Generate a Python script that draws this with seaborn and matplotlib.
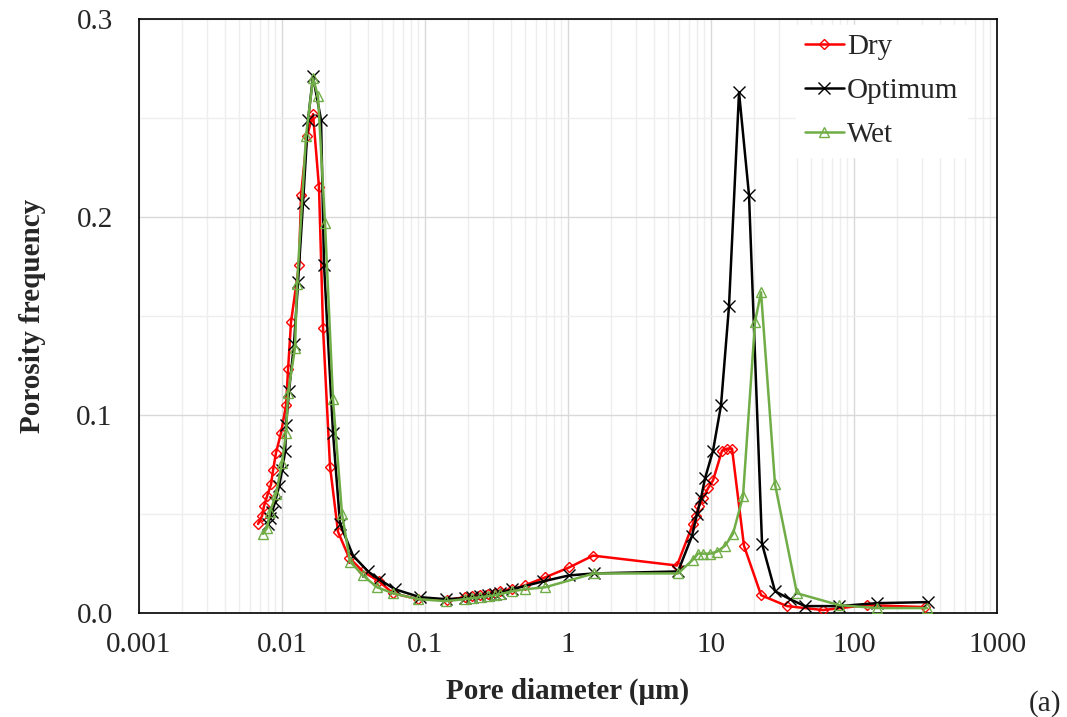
import numpy as np
import pandas as pd
import matplotlib
matplotlib.use("Agg")
import matplotlib.pyplot as plt
import seaborn as sns
from matplotlib.ticker import FixedLocator, LogLocator, NullFormatter, FixedFormatter

# ---- data ----
dry_x = [0.00680, 0.00725, 0.00748, 0.00786, 0.00838, 0.00865, 0.00908, 0.00984, 0.01067, 0.01102,
         0.01156, 0.01315, 0.01358, 0.01496, 0.01647, 0.01814, 0.01935, 0.02166, 0.02464, 0.02941,
         0.0368, 0.0477, 0.0597, 0.0893, 0.1425, 0.190, 0.213, 0.242, 0.276, 0.309,
         0.335, 0.406, 0.500, 0.691, 1.016, 1.496, 5.78, 7.48, 7.86, 8.24,
         8.79, 9.53, 10.33, 11.94, 12.94, 14.03, 17.0, 22.4, 34.0, 60.7,
         123.0, 314.0]
dry_y = [0.045, 0.049, 0.054, 0.059, 0.065, 0.072, 0.081, 0.091, 0.105, 0.123,
         0.147, 0.176, 0.211, 0.241, 0.252, 0.215, 0.144, 0.074, 0.041, 0.028,
         0.021, 0.016, 0.010, 0.007, 0.0066, 0.008, 0.0085, 0.009, 0.0095, 0.010,
         0.011, 0.012, 0.014, 0.018, 0.023, 0.029, 0.024, 0.045, 0.049, 0.054,
         0.058, 0.063, 0.067, 0.082, 0.083, 0.083, 0.034, 0.009, 0.0035, 0.0015,
         0.004, 0.003]

opt_x = [0.00798, 0.00824, 0.00851, 0.00893, 0.00953, 0.0100, 0.01053, 0.01067, 0.01119, 0.01213,
         0.01294, 0.01402, 0.01520, 0.01647, 0.01874, 0.01966, 0.02273, 0.02545, 0.03137, 0.0399,
         0.0477, 0.0617, 0.0923, 0.1403, 0.190, 0.213, 0.242, 0.276, 0.309, 0.335,
         0.406, 0.669, 1.016, 1.52, 5.88, 7.37, 7.98, 8.51, 9.08, 10.33,
         11.75, 13.36, 15.70, 18.44, 22.74, 28.03, 35.7, 45.4, 78.6, 144.8,
         329.0]
opt_y = [0.045, 0.048, 0.051, 0.056, 0.064, 0.072, 0.082, 0.095, 0.112, 0.136,
         0.167, 0.207, 0.249, 0.271, 0.249, 0.176, 0.091, 0.045, 0.029, 0.021,
         0.017, 0.012, 0.008, 0.007, 0.0075, 0.008, 0.0085, 0.009, 0.0095, 0.010,
         0.012, 0.016, 0.019, 0.020, 0.021, 0.039, 0.050, 0.058, 0.068, 0.082,
         0.105, 0.155, 0.263, 0.211, 0.035, 0.011, 0.007, 0.0035, 0.0035, 0.005,
         0.0055]

wet_x = [0.00737, 0.00786, 0.00824, 0.00908, 0.0100, 0.01067, 0.01102, 0.01233, 0.01273, 0.01472,
         0.01647, 0.01785, 0.01998, 0.02273, 0.02628, 0.02989, 0.0368, 0.0462, 0.0597, 0.0893,
         0.1403, 0.190, 0.213, 0.242, 0.276, 0.309, 0.335, 0.406, 0.500, 0.691,
         1.52, 5.88, 7.48, 8.11, 8.79, 9.84, 11.02, 12.53, 14.25, 16.74,
         20.31, 22.37, 28.03, 39.9, 78.6, 144.8, 324.0]
wet_y = [0.040, 0.043, 0.051, 0.060, 0.076, 0.091, 0.111, 0.134, 0.166, 0.241,
         0.270, 0.261, 0.197, 0.108, 0.050, 0.026, 0.019, 0.013, 0.010, 0.007,
         0.006, 0.007, 0.0075, 0.008, 0.0085, 0.009, 0.0095, 0.011, 0.012, 0.013,
         0.020, 0.020, 0.027, 0.030, 0.030, 0.030, 0.031, 0.034, 0.040, 0.059,
         0.147, 0.162, 0.065, 0.010, 0.004, 0.0025, 0.0025]

series_names = ["Dry", "Optimum", "Wet"]
x_ticks = [0.001, 0.01, 0.1, 1, 10, 100, 1000]
x_tick_labels = ["0.001", "0.01", "0.1", "1", "10", "100", "1000"]
y_ticks = [0.0, 0.1, 0.2, 0.3]
y_tick_labels = ["0.0", "0.1", "0.2", "0.3"]

# ---- plot ----
sns.set_style("white")
plt.rcParams["font.family"] = ["Liberation Serif", "DejaVu Serif"]

fig = plt.figure(figsize=(10.67, 7.17), dpi=100)
ax = fig.add_axes([0.1303, 0.1450, 0.8041, 0.8285])

sns.lineplot(x=dry_x, y=dry_y, ax=ax, sort=False, color="#FF0000", lw=1.8,
             marker="D", markersize=5.5, markerfacecolor="none", markeredgecolor="#FF0000",
             markeredgewidth=1.0, label=series_names[0], zorder=3)
sns.lineplot(x=opt_x, y=opt_y, ax=ax, sort=False, color="#000000", lw=1.8,
             marker="x", markersize=8, markeredgecolor="#000000",
             markeredgewidth=1.0, label=series_names[1], zorder=4)
sns.lineplot(x=wet_x, y=wet_y, ax=ax, sort=False, color="#70AD47", lw=1.8,
             marker="^", markersize=7, markerfacecolor="none", markeredgecolor="#70AD47",
             markeredgewidth=1.0, label=series_names[2], zorder=5)

ax.set_xscale("log")
ax.set_xlim(0.001, 1000)
ax.set_ylim(0, 0.3)

ax.xaxis.set_major_locator(FixedLocator(x_ticks))
ax.xaxis.set_major_formatter(FixedFormatter(x_tick_labels))
ax.xaxis.set_minor_locator(LogLocator(base=10, subs=np.arange(2, 10)))
ax.xaxis.set_minor_formatter(NullFormatter())
ax.yaxis.set_major_locator(FixedLocator(y_ticks))
ax.yaxis.set_major_formatter(FixedFormatter(y_tick_labels))
ax.yaxis.set_minor_locator(FixedLocator([0.05, 0.15, 0.25]))

ax.grid(True, which="major", color="#d9d9d9", lw=1.0, zorder=0)
ax.grid(True, which="minor", color="#eeeeee", lw=1.0, zorder=0)
ax.set_axisbelow(True)

ax.tick_params(axis="both", which="both", length=0, labelsize=21)
ax.tick_params(axis="x", pad=14)
ax.tick_params(axis="y", pad=19)
for s in ax.spines.values():
    s.set_color("#000000")
    s.set_linewidth(1.2)

ax.set_xlabel("Pore diameter (\u03bcm)", fontsize=21, fontweight="bold", labelpad=14)
ax.set_ylabel("Porosity frequency", fontsize=21, fontweight="bold", labelpad=22)

leg = ax.legend(loc="upper right", bbox_to_anchor=(0.965, 0.99), fontsize=21,
                frameon=True, fancybox=False, edgecolor="white", framealpha=1.0,
                handlelength=1.35, handletextpad=0.1, borderaxespad=0.0,
                labelspacing=0.6, borderpad=0.3)

fig.text(0.995, 0.0, "(a)", fontsize=21, ha="right", va="bottom")

fig.savefig("out.png", dpi=100)
